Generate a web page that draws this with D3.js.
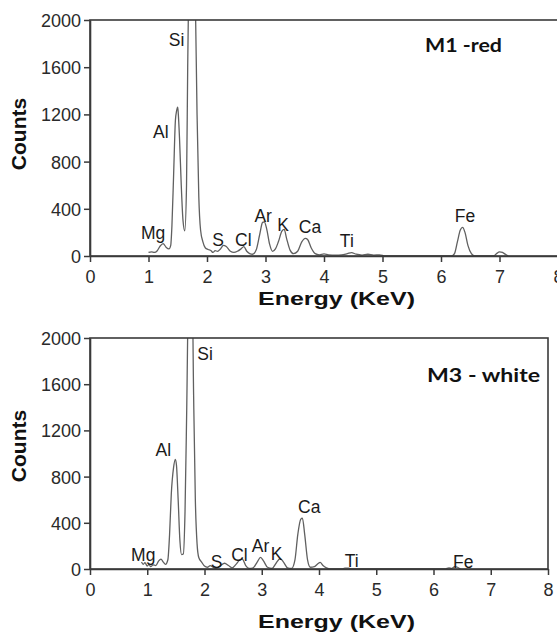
<!DOCTYPE html>
<html>
<head>
<meta charset="utf-8">
<script src="https://cdn.jsdelivr.net/npm/d3@7"></script>
<style>
  body { margin: 0; background: #fff; }
  svg { display: block; }
</style>
</head>
<body>
<svg id="chart" width="557" height="635"></svg>
<script>
// EDS spectra of two samples

const xTicks = [0, 1, 2, 3, 4, 5, 6, 7, 8];
const yTicks = [0, 400, 800, 1200, 1600, 2000];

// M1 - red
const m1Energy = [1.00, 1.05, 1.10, 1.15, 1.20, 1.25, 1.30, 1.35, 1.38, 1.40, 1.43, 1.46, 1.48, 1.50, 1.51, 1.53, 1.56, 1.59, 1.62,
  1.65, 1.67, 1.69, 1.72, 1.76, 1.80, 1.83, 1.86, 1.89, 1.93, 1.97, 2.02, 2.07, 2.10, 2.14, 2.18, 2.23, 2.28, 2.33, 2.40,
  2.46, 2.52, 2.58, 2.63, 2.68, 2.73, 2.78, 2.84, 2.90, 2.95, 2.98, 3.02, 3.07, 3.12, 3.17, 3.22, 3.28, 3.32, 3.36, 3.42,
  3.48, 3.55, 3.62, 3.68, 3.72, 3.78, 3.85, 3.92, 4.00, 4.08, 4.20, 4.30, 4.40, 4.47, 4.55, 4.65, 4.75, 4.85, 4.95, 5.05,
  6.18, 6.23, 6.28, 6.33, 6.37, 6.41, 6.46, 6.52, 6.58, 6.90, 6.95, 7.00, 7.05, 7.10, 7.15];
const m1Counts = [30, 35, 30, 45, 85, 105, 75, 60, 90, 250, 700, 1150, 1230, 1262, 1200, 1000, 600, 300, 214,
  600, 1600, 2400, 3000, 3000, 2200, 1200, 500, 220, 120, 70, 55, 45, 30, 45, 40, 60, 90, 80, 40,
  30, 40, 60, 80, 40, 20, 15, 50, 180, 285, 290, 230, 100, 40, 60, 120, 210, 225, 150, 50,
  20, 40, 120, 150, 140, 70, 20, 10, 18, 10, 8, 10, 20, 28, 15, 8, 15, 8, 10, 0,
  0, 20, 120, 220, 243, 200, 90, 20, 0, 0, 20, 35, 30, 15, 0];
const m1Labels = ["Si", "Al", "Mg", "S", "Cl", "Ar", "K", "Ca", "Ti", "Fe"];
const m1LabelE = [1.48, 1.21, 1.08, 2.19, 2.62, 2.96, 3.30, 3.76, 4.39, 6.41];
const m1LabelC = [1830, 1053, 195, 136, 136, 339, 262, 245, 127, 339];

// M3 - white
const m3Energy = [0.90, 0.93, 0.96, 1.00, 1.03, 1.06, 1.10, 1.15, 1.20, 1.24, 1.28, 1.32, 1.36, 1.39, 1.42, 1.46, 1.49, 1.51,
  1.54, 1.57, 1.60, 1.63, 1.66, 1.69, 1.72, 1.78, 1.81, 1.84, 1.87, 1.90, 1.95, 2.00, 2.05, 2.10, 2.15, 2.20, 2.28, 2.35,
  2.42, 2.48, 2.55, 2.62, 2.66, 2.72, 2.78, 2.85, 2.92, 2.98, 3.03, 3.10, 3.18, 3.25, 3.32, 3.38, 3.45, 3.52, 3.58, 3.63,
  3.68, 3.71, 3.75, 3.80, 3.85, 3.92, 3.98, 4.02, 4.07, 4.13, 4.20, 4.40, 4.45, 4.52, 4.57, 6.20, 6.27, 6.32, 6.37, 6.42, 6.47];
const m3Counts = [60, 40, 55, 25, 40, 20, 35, 30, 70, 85, 60, 40, 80, 300, 650, 880, 950, 900,
  600, 250, 125, 130, 500, 1400, 2400, 2600, 1500, 600, 220, 100, 60, 25, 15, 30, 15, 5, 30, 50,
  30, 10, 40, 80, 85, 30, 5, 10, 60, 100, 70, 15, 5, 50, 90, 60, 10, 5, 80, 300,
  430, 440, 300, 80, 15, 20, 45, 58, 30, 10, 0, 0, 8, 8, 0, 0, 10, 5, 20, 15, 0];
const m3Labels = ["Si", "Al", "Mg", "S", "Cl", "Ar", "K", "Ca", "Ti", "Fe"];
const m3LabelE = [2.01, 1.28, 0.93, 2.21, 2.61, 2.98, 3.26, 3.83, 4.57, 6.52];
const m3LabelC = [1867, 1030, 121, 63, 121, 199, 130, 539, 72, 63];

const svg = d3.select("#chart");

// one spectrum panel
function drawPanel(opt) {
    const x = d3.scaleLinear().domain([0, 8]).range([opt.left, opt.right]);
    const y = d3.scaleLinear().domain([0, 2000]).range([opt.bottom, opt.top]);
    const g = svg.append("g");

    // clip so the Si peak is cut at the top frame
    g.append("clipPath").attr("id", opt.id + "-clip")
        .append("rect")
        .attr("x", opt.left).attr("y", opt.top)
        .attr("width", opt.right - opt.left).attr("height", opt.bottom - opt.top);

    const pts = opt.energy.map((e, i) => [e, opt.counts[i]]);
    const line = d3.line()
        .x(d => x(d[0]))
        .y(d => y(d[1]))
        .curve(d3.curveMonotoneX);

    g.append("path")
        .datum(pts)
        .attr("clip-path", "url(#" + opt.id + "-clip)")
        .attr("fill", "none")
        .attr("stroke", "#606060")
        .attr("stroke-width", 1.3)
        .attr("d", line);

    // frame
    g.append("rect")
        .attr("x", opt.left).attr("y", opt.top)
        .attr("width", opt.right - opt.left).attr("height", opt.bottom - opt.top)
        .attr("fill", "none")
        .attr("stroke", "#3a3a3a")
        .attr("stroke-width", 1.6);

    const xAxis = g.append("g")
        .attr("transform", `translate(0,${opt.bottom})`)
        .call(d3.axisBottom(x).tickValues(xTicks).tickSize(6).tickSizeOuter(0).tickFormat(d3.format("d")));
    const yAxis = g.append("g")
        .attr("transform", `translate(${opt.left},0)`)
        .call(d3.axisLeft(y).tickValues(yTicks).tickSize(6).tickSizeOuter(0).tickFormat(d3.format("d")));

    [xAxis, yAxis].forEach(a => {
        a.select(".domain").attr("stroke", "#3a3a3a").attr("stroke-width", 1.6);
        a.selectAll(".tick line").attr("stroke", "#3a3a3a").attr("stroke-width", 1.5);
        a.selectAll(".tick text")
            .attr("fill", "#2a2a2a")
            .style("font-family", "'Liberation Sans', Arial, sans-serif")
            .style("font-size", "18px");
    });
    xAxis.selectAll(".tick text").attr("dy", null).attr("y", 27);
    yAxis.selectAll(".tick text").attr("x", -9).attr("dy", "0.36em");

    // element labels
    g.selectAll("text.el")
        .data(opt.labels)
        .join("text")
        .attr("class", "el")
        .attr("x", (d, i) => x(opt.labelE[i]))
        .attr("y", (d, i) => y(opt.labelC[i]))
        .attr("dy", "0.36em")
        .attr("text-anchor", "middle")
        .attr("fill", "#1a1a1a")
        .style("font-family", "'Liberation Sans', Arial, sans-serif")
        .style("font-size", "17.5px")
        .text(d => d);

    // axis titles
    g.append("text")
        .attr("transform", `translate(26,${opt.countsY}) rotate(-90)`)
        .attr("text-anchor", "middle")
        .attr("fill", "#111")
        .style("font-family", "'Liberation Sans', Arial, sans-serif")
        .style("font-weight", "bold")
        .style("font-size", "21px")
        .text("Counts");

    g.append("text")
        .attr("x", 258)
        .attr("y", opt.energyY)
        .attr("textLength", 157)
        .attr("lengthAdjust", "spacingAndGlyphs")
        .attr("fill", "#111")
        .style("font-family", "'Liberation Sans', Arial, sans-serif")
        .style("font-weight", "bold")
        .style("font-size", "19px")
        .text("Energy (KeV)");

    // sample title
    g.append("text")
        .attr("x", opt.titleX)
        .attr("y", opt.titleY)
        .attr("textLength", opt.titleW)
        .attr("lengthAdjust", "spacingAndGlyphs")
        .attr("fill", "#111")
        .style("font-family", "Lato, 'Open Sans', sans-serif")
        .style("font-weight", "bold")
        .style("font-size", "19px")
        .text(opt.title);
}

drawPanel({
    id: "m1", left: 90, right: 558, top: 20, bottom: 256,
    energy: m1Energy, counts: m1Counts,
    labels: m1Labels, labelE: m1LabelE, labelC: m1LabelC,
    countsY: 134, energyY: 305,
    title: "M1 -red", titleX: 425, titleY: 52, titleW: 77
});

drawPanel({
    id: "m3", left: 90, right: 548, top: 338, bottom: 569,
    energy: m3Energy, counts: m3Counts,
    labels: m3Labels, labelE: m3LabelE, labelC: m3LabelC,
    countsY: 446, energyY: 628,
    title: "M3 - white", titleX: 427, titleY: 382, titleW: 113
});
</script>
</body>
</html>
